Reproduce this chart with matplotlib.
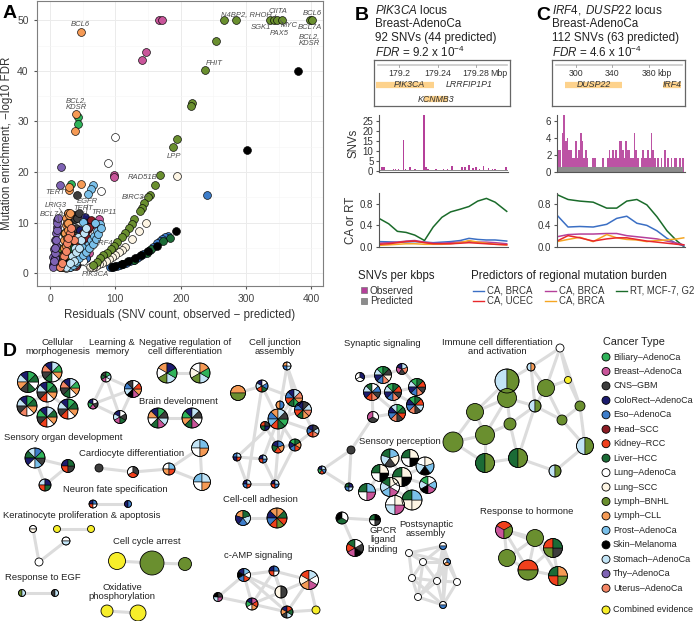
import matplotlib
matplotlib.use('Agg')
import matplotlib.pyplot as plt
from matplotlib.patches import Wedge, Circle, Rectangle

plt.rcParams['font.family'] = ['Liberation Sans', 'DejaVu Sans']
plt.rcParams['mathtext.fontset'] = 'custom'
plt.rcParams['mathtext.rm'] = 'Liberation Sans'
plt.rcParams['mathtext.it'] = 'Liberation Sans:italic'

# ---------------------------------------------------------------- colours
cancer_names = ['Biliary\u2013AdenoCa', 'Breast\u2013AdenoCa', 'CNS\u2013GBM', 'ColoRect\u2013AdenoCa',
                'Eso\u2013AdenoCa', 'Head\u2013SCC', 'Kidney\u2013RCC', 'Liver\u2013HCC', 'Lung\u2013AdenoCa',
                'Lung\u2013SCC', 'Lymph\u2013BNHL', 'Lymph\u2013CLL', 'Prost\u2013AdenoCa', 'Skin\u2013Melanoma',
                'Stomach\u2013AdenoCa', 'Thy\u2013AdenoCa', 'Uterus\u2013AdenoCa']
cancer_codes = ['bil', 'bre', 'cns', 'col', 'eso', 'hea', 'kid', 'liv', 'lad',
                'lsc', 'bnh', 'cll', 'pro', 'mel', 'sto', 'thy', 'ute']
cancer_colors = ['#2fb35a', '#c9559a', '#3d3d3d', '#1c1c6e', '#3d7dca', '#8b1c24', '#f0401c',
                 '#1b6b36', '#ffffff', '#fdf5e4', '#6a8f2f', '#f59a55', '#7ac0ea', '#000000',
                 '#c2e4f6', '#7e62b3', '#f48665']
col = dict(zip(cancer_codes, cancer_colors))
col['cmb'] = '#f7ee2a'

# ---------------------------------------------------------------- panel A data
pts_bil = [(43, 30.8), (42.4, 29.5), (32, 17.7), (28, 12), (18, 3), (22, 4.5), (25, 7),
           (15, 1.2), (20, 2), (26, 5.5), (30, 9), (29, 10.5)]
pts_bre = [(167.6, 50), (171.7, 50), (147, 43.8), (141.5, 42.1), (98, 19.4), (98.5, 19),
           (75.6, 10.8), (71.5, 9.2), (68, 7), (60, 4), (55, 3)]
pts_cns = [(42, 15.4), (33, 10.5), (36.8, 11.6), (25.5, 7.9), (20.4, 3), (30.7, 5.2), (19.4, 2),
           (28, 9), (24, 6), (22, 4), (34, 8), (38, 10.8), (27, 1.5), (30, 3), (33, 5), (36, 7),
           (39, 9), (41, 11), (44, 12)]
pts_col = [(53.6, 11.2), (46, 8.5), (31.7, 2), (40, 6), (35, 4), (28, 1.2), (38, 3), (44, 5),
           (50, 7.5), (56, 10)]
pts_eso = [(241, 15.4), (180, 7.3), (176, 7.1), (172, 6.7), (168, 6.3), (163.5, 5.9), (158, 5.2),
           (153, 4.7), (148, 4.2), (143, 3.8), (138, 3.4), (133, 3.0), (128, 2.7), (122.6, 2.4),
           (117, 2.1), (112, 1.9), (107, 1.7), (102, 1.5), (97, 1.3), (92, 1.3), (42, 1.8), (55, 3)]
pts_hea = [(62.3, 10.6), (57.7, 8.7), (53.6, 7.9), (47.5, 3.9), (50, 6), (44, 2.5), (40, 1.5),
           (45, 3), (52, 5), (56, 7), (60, 9.2)]
pts_kid = [(28, 5), (35, 7), (32, 3), (25, 2), (42, 4.5), (22, 1.3), (30, 2.5), (38, 4), (45, 6), (50, 8)]
pts_liv = [(183, 7.0), (173, 6.4), (155, 4.8), (148, 4.0), (128, 2.7), (110, 1.8), (22, 8), (30, 5),
           (18, 1.2), (26, 3.5), (34, 6.5)]
pts_lad = [(99, 27), (88.4, 21.7), (78, 16.2), (45, 3), (40, 2), (35, 1.5), (30, 1.3), (25, 1.1),
           (38, 1.8), (50, 2.5)]
pts_lsc = [(195, 19.3), (146.6, 10), (136, 8.3), (125, 6.7), (115, 5.2), (110, 4.7), (105, 4.2),
           (100, 3.7), (95, 3.3), (90, 2.9), (85, 2.5), (80, 2.1), (75, 1.8), (70, 1.5), (65, 1.3),
           (61, 1.2)]
pts_bnh = [(266.7, 50), (284, 50), (337, 50), (343, 50), (347, 50), (355, 50), (398.5, 50), (401, 50),
           (253.4, 45.9), (237.5, 40.2), (217.6, 33.7), (216, 33), (195, 26.6), (189, 24.9),
           (168.6, 19.4), (160.4, 17.4), (152.3, 15.4), (149.7, 15.0), (144, 13.8), (140.5, 13),
           (137, 12.3), (128.7, 10.7), (125, 9.8), (121.6, 8.9), (115, 8.0), (110, 7.2), (103, 6.2),
           (98, 5.5), (93.5, 4.9), (86.8, 4.1), (81.7, 3.6), (76.6, 3), (71.5, 2.3), (66.4, 1.6),
           (30, 3.5), (14, 5)]
pts_cll = [(48, 47.6), (39.3, 31.4), (37.8, 28.1), (47.5, 17.6), (29, 16.5), (28.5, 17), (25, 11),
           (24, 9.5), (23, 8), (22, 6.5), (21, 5), (20, 3.5), (19, 2.2), (18, 1.4), (26, 10), (27, 12),
           (20, 1.2), (22, 2.5), (24, 4), (25, 5.5), (26, 7), (27, 8.5), (28, 10), (29, 11.5), (30, 12)]
pts_pro = [(28, 1.4), (33, 2), (38, 2.6), (43, 3.3), (48, 4), (53, 4.8), (58, 5.6), (63, 6.5),
           (68, 7.4), (72, 8.3), (76.6, 9.8), (69, 10), (51, 10.2), (46, 6.6), (48.5, 5.2),
           (65.4, 17.5), (62, 16.6), (58.7, 15.7), (30, 1.2), (35, 1.7), (40, 2.3), (45, 3), (50, 3.6),
           (55, 4.3), (60, 5), (65, 5.8), (70, 6.8), (74, 7.7), (78, 9)]
pts_mel = [(380, 39.9), (301.4, 24.3), (193, 8.4), (163.5, 5.4), (150, 4.5), (140, 3.6), (130, 3.0),
           (120, 2.4), (110, 1.9), (100, 1.5), (95, 1.3), (25, 2)]
pts_sto = [(43.4, 7.2), (38, 5), (33, 3.5), (40, 4.2), (36, 2.5), (25, 1.2), (30, 2), (45, 5),
           (48, 6.5), (52, 8), (55, 9)]
pts_thy = [(16.3, 21), (15.3, 17.5), (10.2, 10.5), (10.2, 9.2), (9.2, 7.9), (7.7, 6.6), (6.1, 4.9),
           (5.1, 3.3), (4, 1.6), (9, 5.5), (8, 3), (6, 2), (5, 1.2), (6, 2.5), (7, 4), (8, 5),
           (9, 6.5), (10, 8.5), (11, 10), (12, 11)]
pts_ute = [(30, 8), (26, 6), (22, 3.5), (36, 6.5), (15, 1.2), (18, 2), (24, 4.5), (28, 7), (32, 9)]

gene_labels = [('BCL6', 47, 49.1), ('N4BP2, RHOH', 300, 51.2), ('CIITA', 349, 51.8), ('BCL6', 401, 51.3),
               ('SGK1', 323, 48.6), ('MYC', 366, 48.9), ('PAX5', 351.5, 47.3), ('BCL7A', 398.5, 48.6),
               ('BCL2,\nKDSR', 397, 46.0), ('FHIT', 252, 41.5), ('BCL2,\nKDSR', 41, 33.5),
               ('LPP', 190.5, 23.1), ('RAD51B', 142, 19), ('BIRC3', 126.7, 14.9), ('TERT', 7.7, 16),
               ('EGFR', 57, 14.2), ('TERT', 51, 12.9), ('LRIG3', 9.2, 13.5), ('BCL7A', 2.6, 11.6),
               ('TRIP11', 82.8, 12.1), ('IRF4', 84, 5.9), ('PIK3CA', 69, -0.3)]
# label leader lines: (x0, y0, x1, y1)
leader_lines = [(346, 51.1, 343, 50.4), (358, 48.9, 353, 50.0), (139, 14.9, 150, 15.3),
                (74, 5.6, 56, 3.2), (64, 0.3, 50, 1.8), (52, 12.2, 48, 10.5), (58, 13.6, 55, 11.4),
                (14, 12.9, 20, 11.8), (12, 11.2, 14, 9.8)]

# ---------------------------------------------------------------- panel B / C data
b_obs_pos = [179.181, 179.183, 179.193, 179.195, 179.198, 179.203, 179.205, 179.210, 179.215,
             179.224, 179.226, 179.228, 179.236, 179.244, 179.248, 179.253, 179.263, 179.266,
             179.270, 179.274, 179.277, 179.281, 179.285, 179.290, 179.294, 179.297, 179.308]
b_obs_snv = [2.3, 2.0, 1.3, 1.3, 1.3, 15.5, 1.3, 2.3, 1.3, 28, 2.3, 1.0, 1.0, 1.3, 1.3, 2.5, 2.3,
             2.3, 3.3, 1.5, 2.3, 1.0, 2.5, 1.5, 1.0, 1.0, 2.0]
b_pred_level = 0.5
b_pos = [179.178, 179.188, 179.197, 179.206, 179.215, 179.225, 179.234, 179.243, 179.252,
         179.262, 179.271, 179.280, 179.289, 179.298, 179.310]
b_rt = [0.53, 0.43, 0.29, 0.27, 0.22, 0.12, 0.37, 0.55, 0.65, 0.70, 0.75, 0.85, 0.90, 0.83, 0.66]
b_ca_blue = [0.10, 0.095, 0.09, 0.095, 0.10, 0.09, 0.08, 0.09, 0.10, 0.12, 0.16, 0.14, 0.13, 0.13, 0.11]
b_ca_pink = [0.07, 0.08, 0.09, 0.11, 0.12, 0.09, 0.07, 0.07, 0.08, 0.09, 0.10, 0.09, 0.09, 0.08, 0.06]
b_ca_red = [0.05, 0.06, 0.08, 0.10, 0.11, 0.08, 0.06, 0.06, 0.06, 0.07, 0.08, 0.07, 0.06, 0.05, 0.04]
b_ca_orange = [0.03, 0.04, 0.05, 0.06, 0.06, 0.05, 0.05, 0.05, 0.06, 0.08, 0.12, 0.09, 0.07, 0.05, 0.04]

c_obs_pos = [279, 281, 284, 286, 288, 290, 292, 294, 296, 298, 300, 302, 304, 306, 308, 310, 312,
             314, 320, 323, 332, 338, 340, 342, 344, 346, 348, 350, 352, 354, 356, 358, 360, 362,
             364, 366, 368, 370, 372, 374, 378, 380, 382, 384, 386, 388, 390, 392, 394, 398, 402,
             406, 410, 414, 418, 420, 424, 428]
c_obs_snv = [2.6, 2.6, 4.6, 6.6, 3.6, 4.0, 2.6, 2.6, 1.6, 1.6, 3.6, 1.6, 2.6, 4.6, 3.6, 1.6, 2.6,
             1.6, 1.6, 1.6, 1.6, 1.6, 2.6, 1.6, 2.6, 1.6, 2.6, 1.6, 3.6, 3.6, 2.6, 1.6, 3.6, 2.6,
             2.6, 1.6, 1.6, 4.6, 2.6, 1.6, 1.6, 2.6, 1.6, 1.6, 2.6, 1.6, 4.6, 2.6, 1.6, 1.6, 1.6,
             2.6, 1.6, 1.6, 1.6, 1.6, 1.6, 1.6]
c_pred_level = 0.6
c_pos = [279.2, 292.1, 305.9, 321.5, 337.3, 349.0, 360.8, 372.6, 384.3, 396.1, 407.8, 419.6, 427.4]
c_rt = [0.97, 0.88, 0.85, 0.83, 0.72, 0.72, 0.85, 0.88, 0.78, 0.56, 0.30, 0.11, 0.01]
c_ca_blue = [0.59, 0.37, 0.38, 0.37, 0.42, 0.53, 0.57, 0.44, 0.40, 0.30, 0.16, 0.06, 0.02]
c_ca_pink = [0.19, 0.23, 0.24, 0.24, 0.25, 0.25, 0.21, 0.19, 0.17, 0.15, 0.11, 0.07, 0.04]
c_ca_red = [0.11, 0.21, 0.17, 0.11, 0.15, 0.17, 0.17, 0.14, 0.11, 0.09, 0.07, 0.05, 0.04]
c_ca_orange = [0.10, 0.14, 0.18, 0.10, 0.23, 0.17, 0.14, 0.13, 0.10, 0.12, 0.13, 0.15, 0.17]

line_blue, line_pink, line_red, line_orange, line_green = '#3b6fc4', '#b5409a', '#e8282b', '#f5a623', '#1a6b2a'
gene_orange = '#fdd28c'

# ---------------------------------------------------------------- panel D data (pixel layout)
# node = (x, y, radius, slices[, start angle])
morpho_nodes = [(28, 382, 10.5, ['col', 'sto', 'cll', 'cns', 'liv', 'lad', 'liv', 'bil']),
                (52, 372, 10, ['col', 'ute', 'cns', 'liv', 'lad', 'cll', 'bil', 'sto']),
                (70, 388, 9.5, ['col', 'ute', 'cns', 'liv', 'lad', 'cll', 'bil', 'sto']),
                (47, 392, 10, ['col', 'sto', 'cns', 'kid', 'lad', 'cll', 'liv', 'bil']),
                (27, 406, 10, ['col', 'sto', 'cns', 'ute', 'lad', 'cll', 'liv', 'bil']),
                (47, 417, 10, ['col', 'bil', 'cns', 'kid', 'lad', 'cll', 'liv', 'sto']),
                (68, 409, 10, ['col', 'sto', 'cns', 'kid', 'lad', 'cll', 'liv', 'bil'])]
morpho_edges = [(0, 1), (0, 3), (1, 2), (1, 3), (2, 3), (3, 4), (3, 5), (3, 6), (4, 5), (5, 6), (2, 6)]

learn_nodes = [(106, 377, 5, ['cns', 'liv', 'bre', 'lad', 'sto', 'bil']),
               (133, 389, 8.5, ['cns', 'eso', 'sto', 'mel', 'bre', 'cll', 'kid', 'lad']),
               (93, 404, 5, ['col', 'bil', 'bre', 'cns', 'lad']),
               (120, 417, 6.5, ['col', 'sto', 'bre', 'liv', 'cns', 'lad'])]
learn_edges = [(0, 1), (0, 2), (1, 2), (1, 3), (2, 3), (0, 3)]

negreg_nodes = [(167, 373, 10, ['cll', 'lad', 'bnh', 'sto', 'bil', 'col']),
                (200, 373, 10, ['lad', 'lsc', 'bnh', 'sto', 'bil', 'cll'])]
brain_nodes = [(158, 418, 10, ['col', 'cll', 'lad', 'liv', 'bre', 'sto', 'cns', 'bil']),
               (192, 418, 10, ['col', 'bil', 'cll', 'liv', 'bre', 'lad', 'cns', 'sto'])]
pair_edges = [(0, 1)]

organ_nodes = [(35, 458, 10, ['sto', 'liv', 'col', 'lad', 'pro', 'cns', 'bil', 'eso']),
               (68, 466, 6.5, ['col', 'kid', 'cns', 'liv']),
               (45, 485, 6, ['sto', 'kid', 'liv', 'col'])]
organ_edges = [(0, 1), (0, 2), (1, 2)]

cardio_nodes = [(99, 468, 4, ['cns']), (133, 472, 5.5, ['lad', 'kid', 'cns']),
                (169, 469, 6, ['lad', 'cll', 'kid', 'pro']), (200, 448, 8.5, ['sto', 'lad', 'cll', 'pro']),
                (202, 482, 8.5, ['pro', 'lad', 'cll', 'sto'])]
cardio_edges = [(0, 1), (1, 2), (2, 3), (2, 4), (3, 4)]

neuron_nodes = [(93, 504, 4, ['col', 'kid', 'lad', 'eso']), (128, 504, 3.5, ['col', 'eso'])]

kerat_nodes = [(33, 529, 3.5, ['lad', 'lsc'], 0), (57, 529, 3.5, ['cmb']), (91, 529, 3.5, ['cmb']),
               (66, 541, 4, ['lad', 'sto'], 0), (39, 562, 4, ['lad'])]
kerat_edges = [(1, 2), (0, 4), (4, 3)]

cycle_nodes = [(117, 561, 8.5, ['cmb']), (152, 563, 12, ['bnh']), (185, 564, 6.5, ['bnh'])]
cycle_edges = [(0, 1), (1, 2)]

egf_nodes = [(22, 593, 3.5, ['bnh', 'sto']), (55, 593, 3.5, ['cns', 'sto'])]
oxphos_nodes = [(107, 611, 6, ['cmb']), (138, 613, 8, ['cmb'])]

junction_nodes = [(287, 366, 4, ['cll', 'eso', 'sto', 'lad']), (238, 393, 7.5, ['cll', 'bnh'], 0),
                  (262, 386, 6, ['col', 'sto', 'kid', 'liv', 'eso', 'lad']),
                  (294, 398, 8.5, ['col', 'eso', 'kid', 'liv', 'bil', 'cll', 'ute', 'sto']),
                  (280, 405, 4, ['cll', 'eso']),
                  (303, 410, 8.5, ['col', 'eso', 'kid', 'liv', 'cll', 'ute', 'sto', 'cns']),
                  (278, 419, 10, ['cll', 'eso', 'pro', 'kid', 'liv', 'bil', 'cns', 'sto']),
                  (265, 426, 4.5, ['kid', 'liv', 'col', 'cns']),
                  (313, 431, 6, ['col', 'eso', 'kid', 'ute', 'sto', 'cns']),
                  (278, 447, 6, ['col', 'liv', 'kid', 'cll', 'eso']),
                  (295, 445, 6, ['bil', 'col', 'eso', 'kid', 'cll', 'liv']),
                  (237, 457, 4, ['eso', 'col', 'kid', 'sto']), (263, 459, 4, ['col', 'kid', 'eso', 'sto']),
                  (247, 484, 4, ['col', 'eso', 'kid', 'sto']), (275, 484, 4, ['col', 'kid', 'eso', 'sto'])]
junction_edges = [(0, 3), (0, 5), (0, 6), (1, 2), (2, 3), (2, 6), (3, 5), (3, 6), (4, 6), (5, 6), (5, 8),
                  (6, 8), (6, 9), (6, 10), (7, 9), (7, 6), (8, 10), (9, 10), (6, 11), (11, 12), (11, 13),
                  (12, 6), (13, 14), (14, 9), (12, 14), (10, 14), (2, 13), (3, 9)]

adhesion_nodes = [(243, 518, 7.5, ['cll', 'col', 'eso', 'sto', 'liv']),
                  (277, 518, 10, ['cll', 'col', 'eso', 'kid', 'bnh', 'kid', 'liv', 'cll'])]

camp_nodes = [(244, 575, 6.5, ['col', 'mel', 'eso', 'kid', 'lad', 'pro']), (274, 571, 5, ['col', 'kid', 'lad', 'eso']),
              (309, 580, 9.5, ['kid', 'lsc', 'cll', 'bre', 'lad', 'sto']), (281, 592, 6, ['lsc', 'cns']),
              (218, 597, 4.5, ['mel', 'sto', 'bre', 'cns']), (252, 604, 6, ['col', 'bil', 'lad', 'cll', 'kid', 'bre']),
              (287, 612, 6, ['col', 'cll', 'cns', 'sto', 'liv', 'kid']), (316, 610, 4, ['cmb'])]
camp_edges = [(0, 1), (0, 3), (0, 4), (0, 5), (1, 2), (1, 3), (1, 5), (2, 3), (2, 6), (3, 5), (3, 6), (4, 5),
              (5, 6), (6, 7), (2, 7), (0, 6), (1, 6)]

synaptic_nodes = [(360, 377, 4.5, ['lad', 'lad', 'col']),
                  (383, 375, 8.5, ['bil', 'sto', 'col', 'eso', 'ute', 'lsc', 'cns', 'liv']),
                  (402, 369, 5.5, ['col', 'bre', 'cns', 'ute', 'sto']),
                  (417, 387, 8.5, ['bil', 'sto', 'col', 'eso', 'ute', 'cns', 'kid', 'liv']),
                  (372, 392, 8.5, ['liv', 'sto', 'col', 'kid', 'ute', 'cns', 'eso', 'lad']),
                  (393, 392, 8.5, ['bil', 'sto', 'col', 'eso', 'ute', 'cns', 'kid', 'liv']),
                  (415, 405, 8.5, ['bil', 'col', 'eso', 'ute', 'cns', 'sto', 'kid', 'liv']),
                  (397, 413, 8.5, ['sto', 'col', 'eso', 'ute', 'cns', 'kid', 'liv', 'bil']),
                  (373, 417, 5.5, ['bre', 'cns', 'lad']), (351, 450, 4, ['cns']),
                  (322, 470, 4, ['col', 'bil', 'kid', 'eso', 'sto']), (349, 487, 4, ['liv', 'eso', 'sto', 'col'])]
synaptic_edges = [(0, 1), (1, 2), (1, 4), (1, 5), (2, 3), (3, 5), (3, 6), (4, 5), (4, 8), (5, 6), (5, 7),
                  (6, 7), (7, 8), (4, 7), (8, 9), (9, 10), (10, 11), (9, 11)]

percept_nodes = [(390, 458, 9, ['liv', 'sto', 'cns', 'lsc', 'pro']), (410, 458, 8.5, ['liv', 'lad', 'mel', 'lsc']),
                 (425, 466, 9, ['lad', 'sto', 'mel', 'pro', 'lsc']), (380, 473, 8.5, ['liv', 'lad', 'mel', 'lsc']),
                 (402, 477, 9.5, ['liv', 'lsc', 'mel', 'lsc']), (367, 492, 8.5, ['liv', 'lad', 'bre', 'pro']),
                 (390, 487, 9.5, ['liv', 'sto', 'pro', 'bre', 'lad', 'lsc']),
                 (428, 485, 8.5, ['bil', 'sto', 'mel', 'bre', 'pro', 'lad']),
                 (412, 500, 10, ['liv', 'lsc', 'lsc', 'pro']), (395, 505, 9.5, ['lad', 'sto', 'bre', 'lsc'])]
percept_edges = [(0, 1), (0, 3), (0, 4), (1, 2), (1, 4), (2, 4), (2, 7), (3, 4), (3, 5), (3, 6), (4, 6),
                 (4, 7), (4, 8), (5, 6), (6, 8), (6, 9), (7, 8), (8, 9), (0, 2)]

gpcr_nodes = [(342, 518, 6, ['mel', 'liv', 'lad']), (375, 520, 5.5, ['liv', 'lad', 'cns', 'mel']),
              (355, 548, 8.5, ['liv', 'kid', 'bre', 'mel', 'cns', 'lad'])]
gpcr_edges = [(0, 1), (0, 2)]

postsyn_nodes = [(409, 553, 3.5, ['lad']), (423, 562, 3.5, ['lad']), (443, 546, 3.5, ['lad', 'eso'], 0),
                 (447, 562, 3.5, ['lad', 'cll', 'eso']), (412, 578, 3.5, ['lad']), (437, 581, 3.5, ['lad']),
                 (457, 582, 3.5, ['lad']), (418, 597, 3.5, ['lad']), (443, 605, 3.5, ['lad', 'eso'], 0)]
postsyn_edges = [(0, 1), (0, 2), (0, 4), (1, 2), (1, 3), (1, 4), (1, 5), (2, 3), (2, 5), (2, 6), (3, 5),
                 (3, 6), (3, 8), (4, 5), (4, 7), (5, 6), (5, 7), (5, 8), (6, 8), (7, 8), (1, 7), (2, 8),
                 (0, 3), (4, 8), (3, 7)]

immune_nodes = [(507, 381, 12, ['sto', 'bnh']), (531, 367, 4, ['sto', 'cll']), (560, 348, 4, ['lad']),
                (546, 388, 8.5, ['bnh']), (568, 380, 3.5, ['cmb']), (507, 398, 9.5, ['bnh']),
                (475, 412, 8.5, ['bnh']), (535, 406, 6, ['sto', 'bnh']), (562, 420, 5, ['bnh']),
                (580, 406, 5, ['bnh']), (510, 424, 6, ['bnh']), (485, 435, 9.5, ['bnh']),
                (453, 442, 10, ['bnh']), (585, 446, 8.5, ['sto', 'bnh']), (485, 463, 9.5, ['liv', 'bnh']),
                (518, 458, 9.5, ['liv', 'bnh']), (555, 471, 6, ['sto', 'bnh'])]
immune_edges = [(0, 1), (0, 5), (0, 6), (1, 2), (1, 3), (1, 7), (2, 3), (2, 4), (3, 4), (3, 7), (3, 8),
                (4, 9), (5, 6), (5, 7), (5, 10), (6, 11), (6, 12), (7, 8), (7, 10), (8, 9), (9, 13),
                (10, 11), (10, 15), (11, 12), (11, 14), (12, 14), (14, 15), (15, 16), (16, 13), (13, 8),
                (7, 15), (5, 11), (2, 9)]

hormone_nodes = [(504, 530, 8.5, ['kid', 'bre', 'bnh'], 30), (535, 538, 8.5, ['bnh']), (507, 558, 8.5, ['bnh']),
                 (553, 548, 9.5, ['kid', 'bnh', 'cns', 'liv']), (528, 570, 10, ['kid', 'bnh'], 0),
                 (558, 576, 9.5, ['liv', 'kid', 'bnh', 'cll'])]
hormone_edges = [(0, 1), (0, 2), (0, 3), (0, 4), (1, 2), (1, 3), (1, 4), (2, 4), (3, 4), (3, 5), (4, 5), (1, 5)]

cluster_titles = [('Cellular\nmorphogenesis', 58, 347), ('Learning &\nmemory', 112, 347),
                  ('Negative regulation of\ncell differentiation', 185, 347), ('Cell junction\nassembly', 275, 347),
                  ('Synaptic signaling', 382, 343), ('Immune cell differentiation\nand activation', 497, 347),
                  ('Brain development', 178, 401), ('Sensory organ development', 63, 438),
                  ('Cardiocyte differentiation', 132, 454), ('Sensory perception', 400, 441),
                  ('Neuron fate specification', 115, 489), ('Cell-cell adhesion', 260, 500),
                  ('Keratinocyte proliferation & apoptosis', 82, 516), ('Response to hormone', 527, 512),
                  ('GPCR\nligand\nbinding', 383, 540), ('Postsynaptic\nassembly', 426, 529),
                  ('Cell cycle arrest', 147, 542), ('c-AMP signaling', 258, 556),
                  ('Response to EGF', 43, 577), ('Oxidative\nphosphorylation', 122, 592)]

# ============================================================================
# FIGURE
# ============================================================================
W, H = 698, 621
fig = plt.figure(figsize=(W / 100, H / 100), dpi=100)

# full-figure canvas in pixel coordinates (panel D, legends, free text)
bg = fig.add_axes([0, 0, 1, 1])
bg.set_xlim(0, W)
bg.set_ylim(H, 0)
bg.axis('off')


def fx(px):
    return px / W


def fy(py):
    return 1 - py / H


def draw_pie(ax, node):
    x, y, r, slices = node[:4]
    start = node[4] if len(node) > 4 else 90
    n = len(slices)
    if n > 1:
        step = 360 / n
        for k, s in enumerate(slices):
            # y axis is inverted, so flip the angles to keep screen orientation
            ax.add_patch(Wedge((x, y), r, -(start + (k + 1) * step), -(start + k * step),
                               fc=col[s], ec='black', lw=0.4, zorder=3))
        ax.add_patch(Circle((x, y), r, fc='none', ec='black', lw=0.6, zorder=4))
    else:
        ax.add_patch(Circle((x, y), r, fc=col[slices[0]], ec='black', lw=0.6, zorder=3))


def draw_network(ax, nodes, edges):
    for i, j in edges:
        ax.plot([nodes[i][0], nodes[j][0]], [nodes[i][1], nodes[j][1]],
                color='#dcdcdc', lw=2.2, zorder=1, solid_capstyle='round')
    for nd in nodes:
        draw_pie(ax, nd)


networks = [(morpho_nodes, morpho_edges), (learn_nodes, learn_edges), (negreg_nodes, pair_edges),
            (brain_nodes, pair_edges), (organ_nodes, organ_edges), (cardio_nodes, cardio_edges),
            (neuron_nodes, pair_edges), (kerat_nodes, kerat_edges), (cycle_nodes, cycle_edges),
            (egf_nodes, pair_edges), (oxphos_nodes, pair_edges), (junction_nodes, junction_edges),
            (adhesion_nodes, pair_edges), (camp_nodes, camp_edges), (synaptic_nodes, synaptic_edges),
            (percept_nodes, percept_edges), (gpcr_nodes, gpcr_edges), (postsyn_nodes, postsyn_edges),
            (immune_nodes, immune_edges), (hormone_nodes, hormone_edges)]
for nodes, edges in networks:
    draw_network(bg, nodes, edges)

for txt, x, y in cluster_titles:
    bg.text(x, y, txt, ha='center', va='center', fontsize=6.8, color='#222222', linespacing=1.05, zorder=5)

# cancer type legend
bg.text(603, 342, 'Cancer Type', fontsize=7.8, va='center', color='#222222')
for k, (name, code) in enumerate(zip(cancer_names, cancer_codes)):
    yy = 357 + k * 14.45
    bg.add_patch(Circle((606, yy), 4, fc=col[code], ec='black', lw=0.6))
    bg.text(613, yy, name, fontsize=6.5, va='center', color='#222222')
bg.add_patch(Circle((606, 610), 4, fc=col['cmb'], ec='black', lw=0.6))
bg.text(613, 610, 'Combined evidence', fontsize=6.5, va='center', color='#222222')

# panel letters
for letter, x, y in [('A', 3, 14), ('B', 355, 16), ('C', 536, 16), ('D', 3, 352)]:
    bg.text(x, y, letter, fontsize=14, fontweight='bold', va='center')

# ---------------------------------------------------------------- panel A
axA = fig.add_axes([fx(37), fy(286), fx(323) - fx(37), fy(1) - fy(286)])
groups = [(pts_bil, 'bil'), (pts_bre, 'bre'), (pts_cns, 'cns'), (pts_col, 'col'), (pts_eso, 'eso'),
          (pts_hea, 'hea'), (pts_kid, 'kid'), (pts_liv, 'liv'), (pts_lad, 'lad'), (pts_lsc, 'lsc'),
          (pts_bnh, 'bnh'), (pts_cll, 'cll'), (pts_pro, 'pro'), (pts_mel, 'mel'), (pts_sto, 'sto'),
          (pts_thy, 'thy'), (pts_ute, 'ute')]
for pts, code in groups:
    axA.scatter([p[0] for p in pts], [p[1] for p in pts], s=32, c=col[code],
                edgecolors='black', linewidths=0.45, zorder=3)
for x0, y0, x1, y1 in leader_lines:
    axA.plot([x0, x1], [y0, y1], color='#555555', lw=0.5, zorder=4)
for txt, x, y in gene_labels:
    axA.text(x, y, txt, fontsize=5.5, style='italic', color='#4d4d4d', ha='center', va='center',
             linespacing=1.0, zorder=4)
axA.set_xlim(-20, 418)
axA.set_ylim(-2.5, 53.8)
axA.set_xticks([0, 100, 200, 300, 400])
axA.set_yticks([0, 10, 20, 30, 40, 50])
axA.set_xticks([50, 150, 250, 350], minor=True)
axA.set_yticks([5, 15, 25, 35, 45], minor=True)
axA.grid(True, which='major', color='#ebebeb', lw=0.7)
axA.grid(True, which='minor', color='#f5f5f5', lw=0.4)
axA.set_axisbelow(True)
axA.tick_params(which='both', length=2.5, color='#555555', labelsize=7.5, labelcolor='#444444')
axA.tick_params(which='minor', length=0)
for sp in axA.spines.values():
    sp.set_color('#7f7f7f')
    sp.set_linewidth(0.8)
axA.set_xlabel('Residuals (SNV count, observed \u2212 predicted)', fontsize=8.3, color='#333333', labelpad=3)
axA.set_ylabel('Mutation enrichment, \u2212log10 FDR', fontsize=8.3, color='#333333', labelpad=3)

# ---------------------------------------------------------------- panels B & C headers
hdr_kw = dict(fontsize=8.4, color='#222222', va='center')
bg.text(375, 10, r'$\mathit{PIK3CA}$ locus', **hdr_kw)
bg.text(375, 24, 'Breast-AdenoCa', **hdr_kw)
bg.text(375, 38, '92 SNVs (44 predicted)', **hdr_kw)
bg.text(375, 52, r'$\mathit{FDR}$ = 9.2 x 10$^{-4}$', **hdr_kw)
bg.text(552, 10, r'$\mathit{IRF4,\ DUSP22}$ locus', **hdr_kw)
bg.text(552, 24, 'Breast-AdenoCa', **hdr_kw)
bg.text(552, 38, '112 SNVs (63 predicted)', **hdr_kw)
bg.text(552, 52, r'$\mathit{FDR}$ = 4.6 x 10$^{-4}$', **hdr_kw)

gene_kw = dict(style='italic', fontsize=6.3, ha='center', va='center', color='#333333')


def gene_box(left, right, xlim, ticks, tick_labels, unit, unit_x):
    ax = fig.add_axes([fx(left), fy(106), fx(right) - fx(left), fy(60) - fy(106)])
    ax.set_xlim(*xlim)
    ax.set_ylim(0, 1)
    ax.set_xticks([])
    ax.set_yticks([])
    for sp in ax.spines.values():
        sp.set_color('#666666')
        sp.set_linewidth(0.9)
    span = xlim[1] - xlim[0]
    ax.plot([xlim[0] + 0.03 * span, xlim[1] - 0.02 * span], [0.9, 0.9], color='#c8c8c8', lw=1.2)
    for t, lab in zip(ticks, tick_labels):
        ax.plot([t, t], [0.9, 0.84], color='#999999', lw=0.6)
        ax.text(t, 0.7, lab, ha='center', va='center', fontsize=6.3, color='#333333')
    ax.text(unit_x, 0.7, unit, ha='left', va='center', fontsize=6.3, color='#333333')
    return ax


gbB = gene_box(374, 510, (179.1733, 179.3158), [179.20, 179.24, 179.28],
               ['179.2', '179.24', '179.28'], 'Mbp', 179.2955)
gbB.plot([179.175, 179.236], [0.46, 0.46], color=gene_orange, lw=4.5, solid_capstyle='butt')
gbB.plot([179.226, 179.251], [0.15, 0.15], color=gene_orange, lw=4.5, solid_capstyle='butt')
gbB.text(179.210, 0.46, 'PIK3CA', **gene_kw)
gbB.text(179.273, 0.46, 'LRRFIP1P1', **gene_kw)
gbB.text(179.238, 0.15, 'KCNMB3', **gene_kw)

gbC = gene_box(552, 685, (274.2, 420.0), [300, 340, 380], ['300', '340', '380'], 'kbp', 389.5)
gbC.plot([288.5, 351.0], [0.46, 0.46], color=gene_orange, lw=4.5, solid_capstyle='butt')
gbC.plot([396.0, 415.6], [0.46, 0.46], color=gene_orange, lw=4.5, solid_capstyle='butt')
gbC.text(320, 0.46, 'DUSP22', **gene_kw)
gbC.text(406, 0.46, 'IRF4', **gene_kw)


def style_track(ax):
    for s in ['top', 'right']:
        ax.spines[s].set_visible(False)
    for s in ['left', 'bottom']:
        ax.spines[s].set_color('#555555')
        ax.spines[s].set_linewidth(0.8)
    ax.set_xticks([])
    ax.tick_params(axis='y', length=2.5, labelsize=7, labelcolor='#333333', color='#555555', pad=1.5)


# SNV tracks
snvB = fig.add_axes([fx(379), fy(172), fx(508) - fx(379), fy(115) - fy(172)])
snvB.bar(b_obs_pos, b_obs_snv, width=0.0017, color='#b5409a', lw=0)
snvB.bar((b_pos[0] + b_pos[-1]) / 2, b_pred_level, width=b_pos[-1] - b_pos[0], color='#8c8c8c', lw=0)
snvB.set_xlim(b_pos[0], b_pos[-1])
snvB.set_ylim(-0.4, 28)
snvB.set_yticks([0, 5, 10, 15, 20, 25])
style_track(snvB)
snvB.set_ylabel('SNVs', fontsize=8.3, color='#333333', labelpad=2)

snvC = fig.add_axes([fx(557), fy(172), fx(685) - fx(557), fy(115) - fy(172)])
snvC.bar(c_obs_pos, c_obs_snv, width=2.0, color='#b5409a', lw=0, alpha=0.9)
snvC.bar((c_pos[0] + c_pos[-1]) / 2, c_pred_level, width=c_pos[-1] - c_pos[0], color='#8c8c8c', lw=0)
snvC.set_xlim(277.5, 430)
snvC.set_ylim(0, 6.65)
snvC.set_yticks([0, 2, 4, 6])
style_track(snvC)

# CA / RT tracks
caB = fig.add_axes([fx(379), fy(247), fx(508) - fx(379), fy(193) - fy(247)])
caC = fig.add_axes([fx(557), fy(247), fx(685) - fx(557), fy(193) - fy(247)])
for ax, xs, rt, cb, cp, cr, co in [(caB, b_pos, b_rt, b_ca_blue, b_ca_pink, b_ca_red, b_ca_orange),
                                   (caC, c_pos, c_rt, c_ca_blue, c_ca_pink, c_ca_red, c_ca_orange)]:
    ax.plot(xs, rt, color=line_green, lw=1.1)
    ax.plot(xs, cb, color=line_blue, lw=1.1)
    ax.plot(xs, cp, color=line_pink, lw=1.1)
    ax.plot(xs, co, color=line_orange, lw=1.1)
    ax.plot(xs, cr, color=line_red, lw=1.1)
    ax.set_xlim(xs[0], xs[-1] + (xs[-1] - xs[0]) * 0.01)
    ax.set_ylim(0, 1.0)
    ax.set_yticks([0.0, 0.4, 0.8])
    ax.set_yticklabels(['0.0', '0.4', '0.8'])
    style_track(ax)
caB.set_ylabel('CA or RT', fontsize=8.3, color='#333333', labelpad=2)

# legends below B / C
bg.text(358, 276, 'SNVs per kbps', fontsize=8.3, va='center', color='#222222')
bg.add_patch(Rectangle((361, 287), 6, 6, fc='#b5409a', ec='#777777', lw=0.5))
bg.text(370, 290.5, 'Observed', fontsize=7.3, va='center', color='#333333')
bg.add_patch(Rectangle((361, 297.5), 6, 6, fc='#8c8c8c', ec='#777777', lw=0.5))
bg.text(370, 301, 'Predicted', fontsize=7.3, va='center', color='#333333')

bg.text(471, 276, 'Predictors of regional mutation burden', fontsize=8.3, va='center', color='#222222')
pred_legend = [(473, 290.5, line_blue, 'CA, BRCA'), (473, 300.5, line_red, 'CA, UCEC'),
               (545, 290.5, line_pink, 'CA, BRCA'), (545, 300.5, line_orange, 'CA, BRCA'),
               (616, 290.5, line_green, 'RT, MCF-7, G2')]
for x, y, c, lab in pred_legend:
    bg.plot([x, x + 11], [y, y], color=c, lw=1.0)
    bg.text(x + 14, y, lab, fontsize=6.9, va='center', color='#333333')

fig.savefig('out.png', dpi=100)
